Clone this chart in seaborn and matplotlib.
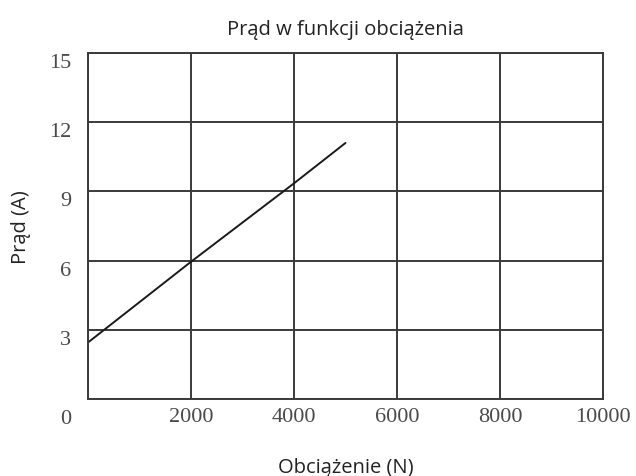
import matplotlib
matplotlib.use('Agg')
import matplotlib.pyplot as plt
import matplotlib.transforms as mtransforms
import pandas as pd
import seaborn as sns

# Data
load_n = [0, 2000, 4000, 5000]
current_a = [2.45, 5.95, 9.35, 11.1]
x_ticks = [0, 2000, 4000, 6000, 8000, 10000]
x_tick_labels = ['', '2000', '4000', '6000', '8000', '10000']
y_ticks = [0, 3, 6, 9, 12, 15]
y_tick_labels = ['0', '3', '6', '9', '12', '15']

df = pd.DataFrame({'load': load_n, 'current': current_a})

sns.set_style('white')
plt.rcParams['font.family'] = ['Open Sans', 'DejaVu Sans']

fig, ax = plt.subplots(figsize=(6.36, 4.77), dpi=100)
fig.subplots_adjust(left=88/636, right=603/636, top=1-54/477, bottom=1-400/477)

sns.lineplot(data=df, x='load', y='current', color='#1a1a1a', linewidth=1.4, ax=ax)

ax.set_xlim(0, 10000)
ax.set_ylim(0, 15)
ax.set_xticks(x_ticks, x_tick_labels)
ax.set_yticks(y_ticks, y_tick_labels)
ax.grid(True, color='#3a3a3a', linewidth=1.4)
for s in ax.spines.values():
    s.set_color('#3a3a3a')
    s.set_linewidth(1.4)

ax.tick_params(axis='both', length=0, labelcolor='#4a4a4a', labelsize=16)
ax.tick_params(axis='x', pad=6)
ax.tick_params(axis='y', pad=12)
for lab in ax.get_xticklabels() + ax.get_yticklabels():
    lab.set_family(['Liberation Serif', 'DejaVu Serif'])
# y labels in the scan sit a bit below their grid lines
for lab in ax.get_yticklabels():
    shift = 17 if lab.get_text() == '0' else 7
    offset = mtransforms.ScaledTranslation(0, -shift / 100, fig.dpi_scale_trans)
    lab.set_transform(lab.get_transform() + offset)

ax.set_title('Prąd w funkcji obciążenia', fontsize=14.5, color='#222222', pad=14)
ax.set_xlabel('Obciążenie (N)', fontsize=14.5, color='#222222', labelpad=22)
ax.set_ylabel('Prąd (A)', fontsize=14.5, color='#222222', labelpad=13)

fig.savefig('out.png', dpi=100)
